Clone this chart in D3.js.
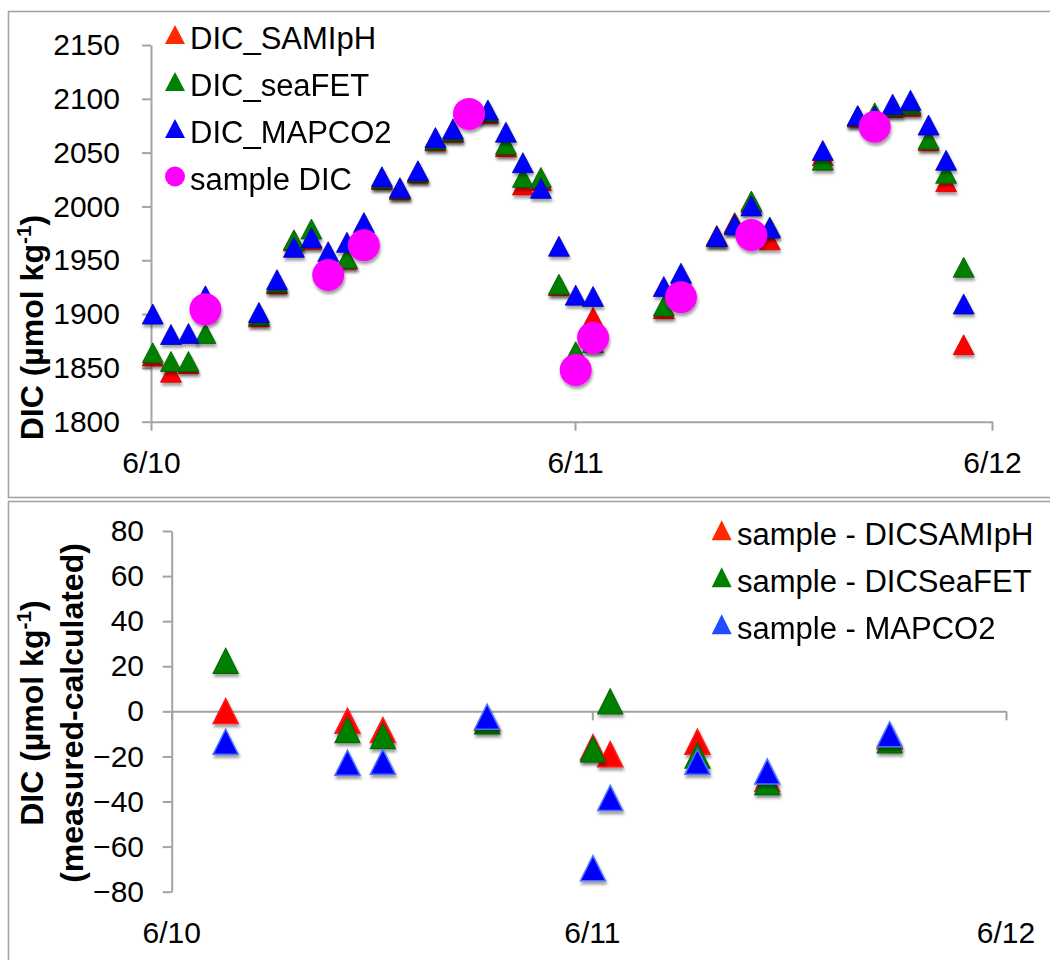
<!DOCTYPE html>
<html><head><meta charset="utf-8">
<script src="https://cdn.jsdelivr.net/npm/d3@7"></script>
<style>
body{margin:0;background:#fff}
svg{display:block}
text{font-family:"Liberation Sans",Arial,sans-serif;fill:#000}
</style>
</head><body>
<svg id="c" width="1050" height="960"></svg>
<script>
// ---------- DATA (hours after 6/10 00:00) ----------
const hours = [0.1, 1.13, 2.12, 3.08, 6.11, 7.13, 8.09, 9.08, 10.03, 11.09, 12.05, 13.07, 14.09, 15.11, 16.1, 17.09, 18.0, 19.07, 20.09, 21.05, 22.07, 23.09, 24.04, 25.04, 29.11, 30.1, 32.16, 33.19, 34.15, 35.21, 38.26, 40.27, 41.25, 42.28, 43.31, 44.35, 45.36, 46.37];
const dicSAMIpH = [1861, 1846, 1854, 1904, 1897.5, 1928, 1968, 1969.5, 1940.5, 1951, 1972, 2025, 2015.5, 2031, 2061, 2069, 2089, 2086.5, 2055.5, 2020, 2024, 1926.4, 1864, 1897, 1905, 1929, 1973, 1985, 2003.5, 1969, 2047, 2083, 2085, 2092, 2093, 2061, 2023, 1871.5];
const dicSeaFET = [1864, 1856, 1856, 1882, 1899, 1929.5, 1969, 1979, 1944, 1952, 1975, 2026, 2016.5, 2032, 2062, 2070, 2090.5, 2088, 2057.7, 2027, 2027, 1927.7, 1865, 1873.6, 1907.5, 1935, 1972, 1984, 2005, 1981, 2043, 2084, 2087, 2093, 2095, 2062.6, 2030.8, 1943.5];
const dicMAPCO2 = [1900, 1881, 1882, 1917, 1901.5, 1932, 1962, 1971, 1958, 1966.7, 1985, 2027.6, 2017.4, 2033.2, 2064, 2072, 2088.4, 2089.6, 2069, 2040.6, 2016.8, 1963, 1917.6, 1916.4, 1925.6, 1938, 1972.2, 1983, 2000.5, 1980, 2052, 2084.4, 2084, 2095, 2098.6, 2075.6, 2042.9, 1909.4];

const sampleHours = [3.08, 10.03, 12.05, 18.0, 24.04, 25.04, 30.1, 34.15, 41.25];
const sampleDIC = [1904.4, 1936.3, 1964, 2086, 1848, 1878, 1915.6, 1973.5, 2074];

const diffSAMIpH = [0.1, -4.2, -8.3, -3, -15.9, -19, -13.5, -30, -11];
const diffSeaFET = [22.4, -8.3, -11, -4.5, -16.9, 4.4, -19.6, -31.4, -12.9];
const diffMAPCO2 = [-13.5, -22.8, -22.4, -2.4, -69.6, -38.4, -22.4, -26.7, -10.2];

const dayTicks = [0, 24, 48];
const dayLabels = ["6/10", "6/11", "6/12"];
const topYTicks = [1800, 1850, 1900, 1950, 2000, 2050, 2100, 2150];
const botYTicks = [-80, -60, -40, -20, 0, 20, 40, 60, 80];

const topLegend = ["DIC_SAMIpH", "DIC_seaFET", "DIC_MAPCO2", "sample DIC"];
const botLegend = ["sample - DICSAMIpH", "sample - DICSeaFET", "sample - MAPCO2"];

// ---------- STYLE ----------
const RED = "#ff0000", GREEN = "#008000", BLUE = "#0000ff", PINK = "#ff00ff";
const AXIS = "#a3a3a3";

const svg = d3.select("#c");
const defs = svg.append("defs");
defs.append("filter").attr("id", "sh").attr("x", "-60%").attr("y", "-60%").attr("width", "220%").attr("height", "220%")
  .append("feDropShadow").attr("dx", 1).attr("dy", 3).attr("stdDeviation", 1.8)
  .attr("flood-color", "#000").attr("flood-opacity", 0.38);

function tri(w, h) { return `M0,${-h / 2}L${w / 2},${h / 2}L${-w / 2},${h / 2}Z`; }

// panel borders
svg.append("rect").attr("x", 8.5).attr("y", 11.5).attr("width", 1100).attr("height", 486)
  .attr("fill", "none").attr("stroke", AXIS).attr("stroke-width", 1.6);
svg.append("rect").attr("x", 8.5).attr("y", 501.5).attr("width", 1100).attr("height", 500)
  .attr("fill", "none").attr("stroke", AXIS).attr("stroke-width", 1.6);

// ---------- TOP CHART ----------
const x1 = d3.scaleLinear().domain([0, 24, 48]).range([151, 575, 992]);
const y1 = d3.scaleLinear().domain([1800, 2150]).range([421.7, 45]);

function styleAxis(g) {
  g.select(".domain").attr("stroke", AXIS).attr("stroke-width", 2);
  g.selectAll(".tick line").attr("stroke", AXIS).attr("stroke-width", 2);
  g.selectAll("text").attr("font-size", 30).attr("fill", "#000")
    .attr("font-family", "Liberation Sans, Arial, sans-serif");
}

svg.append("g").attr("transform", `translate(151,0)`)
  .call(d3.axisLeft(y1).tickValues(topYTicks).tickSize(9).tickSizeOuter(0).tickPadding(22).tickFormat(d3.format("d")))
  .call(styleAxis);
svg.append("g").attr("transform", `translate(0,${y1(1800)})`)
  .call(d3.axisBottom(x1).tickValues(dayTicks).tickSize(9).tickSizeOuter(0).tickPadding(20.7).tickFormat((d, i) => dayLabels[i]))
  .call(styleAxis);

function triSeries(g, xs, ys, xsc, ysc, fill, stroke, w, h, sw) {
  g.append("g").attr("filter", "url(#sh)").selectAll("path").data(ys).join("path")
    .attr("d", tri(w, h))
    .attr("transform", (d, i) => `translate(${xsc(xs[i])},${ysc(d)})`)
    .attr("fill", fill).attr("stroke", stroke).attr("stroke-width", sw);
}
const topG = svg.append("g");
triSeries(topG, hours, dicSAMIpH, x1, y1, RED, "#d00000", 21, 20, 0.8);
triSeries(topG, hours, dicSeaFET, x1, y1, GREEN, "#005a00", 21, 20, 0.8);
triSeries(topG, hours, dicMAPCO2, x1, y1, BLUE, "#0000b0", 21, 20, 0.8);
topG.append("g").attr("filter", "url(#sh)").selectAll("circle").data(sampleDIC).join("circle")
  .attr("cx", (d, i) => x1(sampleHours[i])).attr("cy", d => y1(d)).attr("r", 16).attr("fill", PINK);

// top legend
const tl = svg.append("g");
const tlColors = ["#ff2a00", GREEN, BLUE, PINK];
topLegend.forEach((t, i) => {
  const by = 49 + i * 47;
  if (i < 3) tl.append("path").attr("d", tri(20, 19)).attr("transform", `translate(175,${by - 14.5})`).attr("fill", tlColors[i]);
  else tl.append("circle").attr("cx", 175).attr("cy", by - 13.5).attr("r", 10).attr("fill", PINK);
  tl.append("text").attr("x", 190).attr("y", by).attr("font-size", 31).text(t);
});

// top y title
const tt = svg.append("text").attr("transform", "translate(43,327.5) rotate(-90)")
  .attr("text-anchor", "middle").attr("font-size", 32).attr("font-weight", "bold");
tt.append("tspan").text("DIC (µmol kg");
tt.append("tspan").attr("font-size", 21).attr("dy", -12).text("-1");
tt.append("tspan").attr("dy", 12).text(")");

// ---------- BOTTOM CHART ----------
const x2 = d3.scaleLinear().domain([0, 24, 48]).range([171.7, 592.3, 1006]);
const y2 = d3.scaleLinear().domain([-80, 80]).range([891.7, 531]);

svg.append("g").attr("transform", `translate(171.7,0)`)
  .call(d3.axisLeft(y2).tickValues(botYTicks).tickSize(9).tickSizeOuter(0).tickPadding(18.7).tickFormat(d3.format("d")))
  .call(styleAxis);
svg.append("g").attr("transform", `translate(0,${y2(0)})`)
  .call(d3.axisBottom(x2).tickValues(dayTicks).tickSize(9).tickSizeOuter(0).tickFormat(""))
  .call(styleAxis);
svg.append("g").selectAll("text").data(dayTicks).join("text")
  .attr("x", d => x2(d)).attr("y", 943).attr("text-anchor", "middle").attr("font-size", 30)
  .text((d, i) => dayLabels[i]);

const botG = svg.append("g");
triSeries(botG, sampleHours, diffSAMIpH, x2, y2, RED, "#ff1a1a", 25, 25, 1.5);
triSeries(botG, sampleHours, diffSeaFET, x2, y2, GREEN, "#006a00", 25, 25, 1.2);
triSeries(botG, sampleHours, diffMAPCO2, x2, y2, BLUE, "#4a70ff", 25, 25, 1.5);

// bottom legend
const bl = svg.append("g");
const blColors = ["#ff2a00", GREEN, "#1f4dff"];
botLegend.forEach((t, i) => {
  const by = 545 + i * 47;
  bl.append("path").attr("d", tri(20, 20)).attr("transform", `translate(721.7,${by - 14.7})`).attr("fill", blColors[i]);
  bl.append("text").attr("x", 737).attr("y", by).attr("font-size", 31).text(t);
});

// bottom y title (two lines)
const bt1 = svg.append("text").attr("transform", "translate(43,713) rotate(-90)")
  .attr("text-anchor", "middle").attr("font-size", 32).attr("font-weight", "bold");
bt1.append("tspan").text("DIC (µmol kg");
bt1.append("tspan").attr("font-size", 21).attr("dy", -12).text("-1");
bt1.append("tspan").attr("dy", 12).text(")");
svg.append("text").attr("transform", "translate(83.3,713) rotate(-90)")
  .attr("text-anchor", "middle").attr("font-size", 32).attr("font-weight", "bold")
  .text("(measured-calculated)");
</script>
</body></html>
